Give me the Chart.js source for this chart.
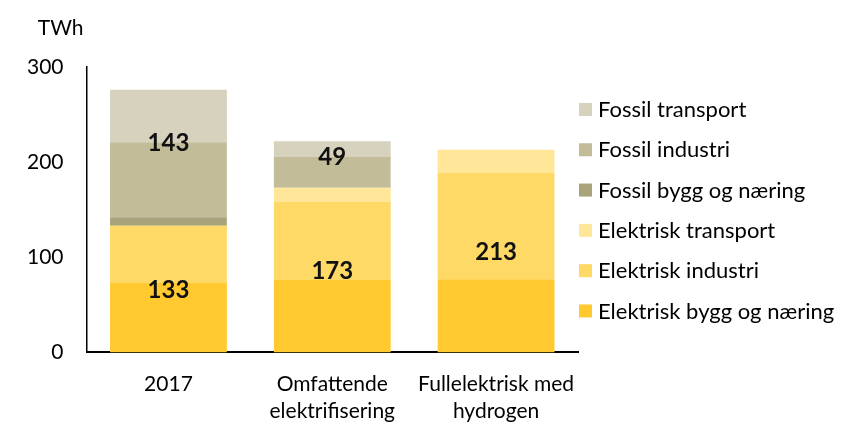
<!DOCTYPE html>
<html>
<head>
<meta charset="utf-8">
<script src="https://cdn.jsdelivr.net/npm/chart.js@4"></script>
<style>
  html, body { margin: 0; padding: 0; background: #fff; }
  #wrap { width: 849px; height: 444px; }
</style>
</head>
<body>
<div id="wrap"><canvas id="energyChart"></canvas></div>
<script>
const categories = ['2017', ['Omfattende', 'elektrifisering'], ['Fullelektrisk med', 'hydrogen']];

// TWh per kategori, lest av figuren
const elBygg = [73, 76, 77];
const elIndustri = [60, 82, 112];
const elTransport = [0, 15, 24];
const fossilBygg = [9, 0, 0];
const fossilIndustri = [79, 33, 0];
const fossilTransport = [55, 16, 0];

const elTotals = [133, 173, 213];
const fossilTotals = [143, 49, null];

const yTicks = [0, 100, 200, 300];

const FONT = 'Lato, "Open Sans", sans-serif';

// tall inne i søylene + enhet + egen legend til høyre
const extrasPlugin = {
  id: 'extras',
  afterDatasetsDraw(chart) {
    const { ctx, chartArea } = chart;
    const y = chart.scales.y;
    const x = chart.scales.x;
    ctx.save();
    ctx.font = 'bold 24px ' + FONT;
    ctx.fillStyle = '#111';
    ctx.textAlign = 'center';
    ctx.textBaseline = 'middle';
    categories.forEach((c, i) => {
      const cx = x.getPixelForValue(i);
      if (elTotals[i] != null) {
        ctx.fillText(String(elTotals[i]), cx, y.getPixelForValue(elTotals[i] / 2) + 1);
      }
      if (fossilTotals[i] != null) {
        const top = elTotals[i] + fossilBygg[i] + fossilIndustri[i];
        ctx.fillText(String(fossilTotals[i]), cx, y.getPixelForValue(top) + 1);
      }
    });

    ctx.font = '21px ' + FONT;
    ctx.textAlign = 'right';
    ctx.fillStyle = '#000';
    ctx.fillText('TWh', chartArea.left - 3, 28);

    // legend, øverste serie først
    const items = chart.data.datasets.slice().reverse();
    const step = 40.3;
    const mid = (chartArea.top + chartArea.bottom) / 2;
    const first = mid - step * (items.length - 1) / 2;
    ctx.font = '22px ' + FONT;
    ctx.textAlign = 'left';
    items.forEach((ds, k) => {
      const cy = first + k * step;
      ctx.fillStyle = ds.backgroundColor;
      ctx.fillRect(chartArea.right + 1, cy - 6, 13, 13);
      ctx.fillStyle = '#000';
      ctx.fillText(ds.label, chartArea.right + 20, cy + 1);
    });
    ctx.restore();
  }
};

new Chart('energyChart', {
  type: 'bar',
  data: {
    labels: categories,
    datasets: [
      { label: 'Elektrisk bygg og næring', data: elBygg, backgroundColor: '#FFC92F' },
      { label: 'Elektrisk industri', data: elIndustri, backgroundColor: '#FFD966' },
      { label: 'Elektrisk transport', data: elTransport, backgroundColor: '#FFE699' },
      { label: 'Fossil bygg og næring', data: fossilBygg, backgroundColor: '#A9A37C' },
      { label: 'Fossil industri', data: fossilIndustri, backgroundColor: '#C2BC99' },
      { label: 'Fossil transport', data: fossilTransport, backgroundColor: '#D6D2BE' },
    ],
  },
  options: {
    responsive: true,
    maintainAspectRatio: false,
    animation: false,
    layout: { padding: { top: 67, left: 4, right: 271, bottom: 1 } },
    datasets: { bar: { categoryPercentage: 1, barPercentage: 0.713, borderWidth: 0 } },
    scales: {
      x: {
        stacked: true,
        grid: { display: false, drawTicks: false },
        border: { display: true, color: '#000', width: 2 },
        ticks: {
          color: '#000',
          font: { family: FONT, size: 21, lineHeight: 1.3 },
          padding: 18,
          maxRotation: 0,
          autoSkip: false,
        },
      },
      y: {
        stacked: true,
        min: 0,
        max: 300,
        afterBuildTicks: (axis) => { axis.ticks = yTicks.map((v) => ({ value: v })); },
        grid: { display: false, drawTicks: false },
        border: { display: true, color: '#000', width: 1.5 },
        ticks: { color: '#000', font: { family: FONT, size: 21 }, padding: 23 },
      },
    },
    plugins: {
      legend: { display: false },
      tooltip: { enabled: false },
    },
  },
  plugins: [extrasPlugin],
});
</script>
</body>
</html>
